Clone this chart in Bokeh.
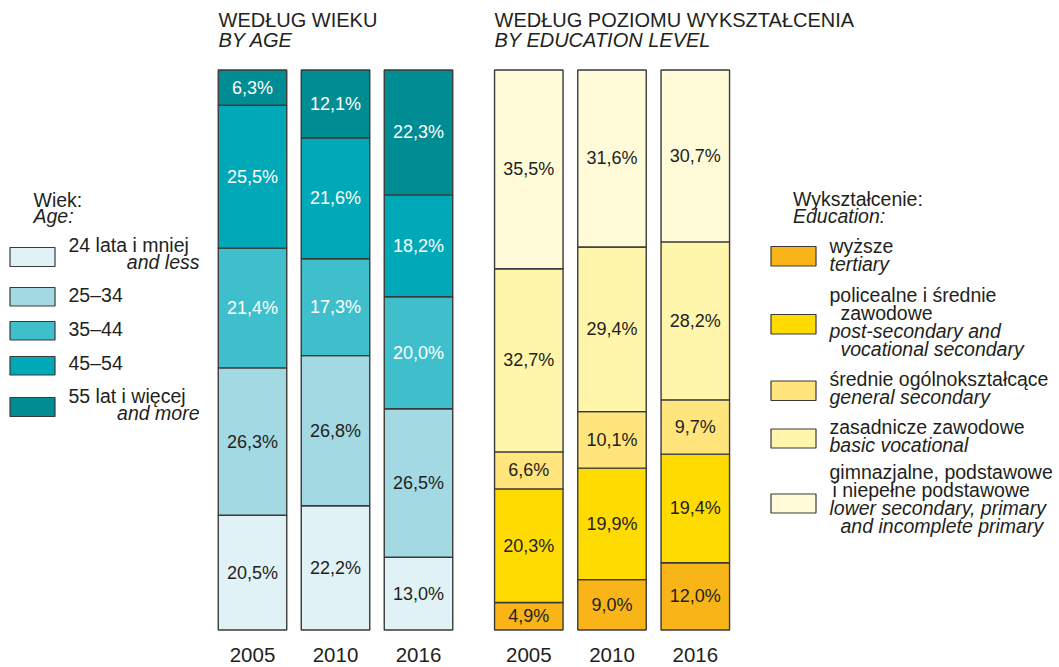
from bokeh.plotting import figure
from bokeh.models import Range1d, ColumnDataSource
from bokeh.core.properties import value
from bokeh.embed import file_html
from bokeh.resources import INLINE

# ---------------- data ----------------
years = ["2005", "2010", "2016"]

age_groups = ["24 lata i mniej", "25–34", "35–44", "45–54", "55 lat i więcej"]
age_groups_en = ["and less", "", "", "", "and more"]
age_2005 = [20.5, 26.3, 21.4, 25.5, 6.3]
age_2010 = [22.2, 26.8, 17.3, 21.6, 12.1]
age_2016 = [13.0, 26.5, 20.0, 18.2, 22.3]
age_colors = ["#E0F2F5", "#A3D9E3", "#3FBFCB", "#00A9B7", "#008C93"]
age_text_colors = ["#231F20", "#231F20", "#FFFFFF", "#FFFFFF", "#FFFFFF"]

edu_levels = ["wyższe", "policealne i średnie zawodowe", "średnie ogólnokształcące",
              "zasadnicze zawodowe", "gimnazjalne, podstawowe i niepełne podstawowe"]
edu_2005 = [4.9, 20.3, 6.6, 32.7, 35.5]
edu_2010 = [9.0, 19.9, 10.1, 29.4, 31.6]
edu_2016 = [12.0, 19.4, 9.7, 28.2, 30.7]
edu_colors = ["#F9B518", "#FFDB00", "#FFE57B", "#FFF5AB", "#FFFAD7"]

FONT = value("Liberation Sans")
TXT = "#231F20"

# ---------------- figure ----------------
W, H = 1059, 667
# data y in percent: 0% at image y 629.5, 100% at 69.5
PX_PER = 5.6
y0_img = 629.5
p = figure(width=W, height=H, output_backend="svg", toolbar_location=None,
           x_range=Range1d(0, W),
           y_range=Range1d((y0_img - H) / PX_PER, y0_img / PX_PER),
           x_axis_location=None, y_axis_location=None, min_border=0)
p.extra_y_ranges = {"px": Range1d(H, 0)}
p.grid.visible = False
p.outline_line_color = None
p.background_fill_color = "white"
p.border_fill_color = "white"


def fmt(v):
    return f"{v:.1f}".replace(".", ",") + "%"


def stacked(series_list, centers, colors, text_colors):
    d = dict(x=[], bottom=[], top=[], color=[], label=[], ly=[], tc=[])
    for vals, cx in zip(series_list, centers):
        acc = 0.0
        for j, v in enumerate(vals):
            d["x"].append(cx)
            d["bottom"].append(acc)
            d["top"].append(acc + v)
            d["color"].append(colors[j])
            d["label"].append(fmt(v))
            d["ly"].append(acc + v / 2)
            d["tc"].append(text_colors[j])
            acc += v
    return ColumnDataSource(d)


BAR_W = 68.5
age_centers = [252, 335, 418]
edu_centers = [528.3, 611.5, 694.8]

src_age = stacked([age_2005, age_2010, age_2016], age_centers, age_colors, age_text_colors)
src_edu = stacked([edu_2005, edu_2010, edu_2016], edu_centers, edu_colors, [TXT] * 5)

for src in (src_age, src_edu):
    p.vbar(x="x", bottom="bottom", top="top", width=BAR_W, source=src,
           fill_color="color", line_color="#3A3A3A", line_width=1.4)
    p.text(x="x", y="ly", text="label", source=src, text_color="tc",
           text_align="center", text_baseline="middle", text_font=FONT,
           text_font_size="18px")

# year labels (vertical centre of digits)
p.text(x=age_centers + edu_centers, y=[654.5] * 6, text=years + years,
       y_range_name="px", text_align="center", text_baseline="middle",
       text_font=FONT, text_font_size="20.5px", text_color=TXT)


def label(x, base, t, italic=False, align="left", size=19.5):
    # base = baseline in image pixels; draw centred on cap height
    p.text(x=[x], y=[base - 0.36 * size], text=[t], y_range_name="px",
           text_align=align, text_baseline="middle", text_font=FONT,
           text_font_size=f"{size}px",
           text_font_style="italic" if italic else "normal", text_color=TXT)


# titles
TS = 20
label(218, 27, "WEDŁUG WIEKU", size=TS)
label(218, 47, "BY AGE", italic=True, size=TS)
label(494, 27, "WEDŁUG POZIOMU WYKSZTAŁCENIA", size=TS)
label(494, 47, "BY EDUCATION LEVEL", italic=True, size=TS)

LS = 19.5
# left legend
label(33, 207, "Wiek:", size=LS)
label(33, 222.5, "Age:", italic=True, size=LS)
age_sw = [(247, 266), (287, 305.5), (321, 339.5), (356, 374.5), (397, 416)]
age_txt_y = [252, 302, 335.5, 370, 403]
for j, (a, b) in enumerate(age_sw):
    p.quad(left=[9.5], right=[54.5], top=[a], bottom=[b], y_range_name="px",
           fill_color=age_colors[j], line_color="#3A3A3A", line_width=1.2)
    label(68, age_txt_y[j], age_groups[j], size=LS)
    if age_groups_en[j]:
        label(199, age_txt_y[j] + 17, age_groups_en[j], italic=True, align="right", size=LS)

# right legend
label(792.5, 206, "Wykształcenie:", size=LS)
label(792.5, 222.5, "Education:", italic=True, size=LS)
edu_sw = [(246, 265.5), (314, 333.5), (380.5, 400), (428.5, 447.5), (493.5, 512.5)]
for j, (a, b) in enumerate(edu_sw):
    p.quad(left=[770.5], right=[815.5], top=[a], bottom=[b], y_range_name="px",
           fill_color=edu_colors[j], line_color="#3A3A3A", line_width=1.2)

edu_lines = [
    (829, 252.5, "wyższe", False),
    (829, 270.5, "tertiary", True),
    (829, 301.5, "policealne i średnie", False),
    (840, 319.5, "zawodowe", False),
    (829, 338, "post-secondary and", True),
    (840, 356, "vocational secondary", True),
    (829, 386, "średnie ogólnokształcące", False),
    (829, 404, "general secondary", True),
    (829, 434, "zasadnicze zawodowe", False),
    (829, 451.5, "basic vocational", True),
    (829, 478.5, "gimnazjalne, podstawowe", False),
    (832, 497, "i niepełne podstawowe", False),
    (829, 515, "lower secondary, primary", True),
    (840, 533, "and incomplete primary", True),
]
for x, y, t, it in edu_lines:
    label(x, y, t, italic=it, size=LS)

open("out.html", "w").write(file_html(p, INLINE))
